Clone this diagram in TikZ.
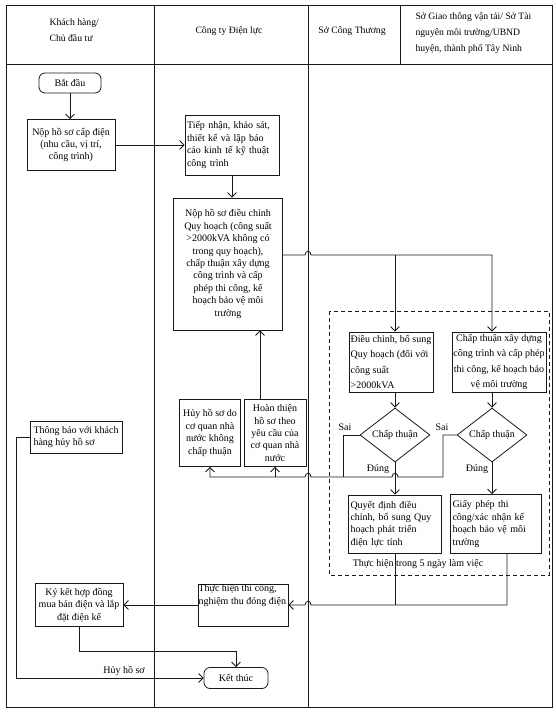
\documentclass[tikz,border=0pt]{standalone}
\usepackage{fontspec}
\setmainfont{Liberation Serif}
\usetikzlibrary{arrows.meta,shapes.geometric,calc}
\begin{document}
\begin{tikzpicture}[x=1pt,y=-1pt,
  every node/.style={font=\fontsize{10}{12.4}\selectfont, text=black},
  ln/.style={draw=black!90, line width=0.8pt},
  arr/.style={ln, -{Straight Barb[length=4.5pt,width=9pt]}},
  box/.style={ln, rectangle, inner sep=1.5pt, align=center},
  lbox/.style={ln, rectangle, inner xsep=2pt, inner ysep=2pt, align=left},
  wide/.style={font=\fontsize{10}{15.5}\selectfont},
  term/.style={ln, rounded corners=6pt, align=center, inner sep=2pt},
  dia/.style={ln, diamond, aspect=1.3, inner sep=0pt},
  lbl/.style={inner sep=1pt},
  hdr/.style={font=\fontsize{9.7}{16}\selectfont}
]
\useasboundingbox (0,0) rectangle (556,712);
% table grid
\draw[ln] (6,5) rectangle (552,707);
\draw[ln] (6,64) -- (552,64);
\draw[ln] (154,5) -- (154,707);
\draw[ln] (308,5) -- (308,707);
\draw[ln] (400,5) -- (400,64);
% header
\node[hdr, align=left, anchor=west] (h1) at (46,30) {Khách hàng/\\Chủ đầu tư};
\node[hdr] (h2) at (229,31) {Công ty Điện lực};
\node[hdr] (h3) at (352,31) {Sở Công Thương};
\node[hdr, align=left, anchor=west] (h4) at (412,33) {Sở Giao thông vận tải/ Sở Tài\\nguyên môi trường/UBND\\huyện, thành phố Tây Ninh};
% dashed group
\draw[ln, dash pattern=on 4pt off 3pt] (329,311) rectangle (549,575);
% nodes
\node[term, minimum width=62pt, minimum height=20pt] (start) at (70,83) {Bắt đầu};
\node[box, minimum width=88pt, minimum height=51pt] (n1) at (71,145) {Nộp hồ sơ cấp điện\\(nhu cầu, vị trí,\\công trình)};
\node[lbox, text width=90pt, minimum height=60pt] (n2) at (232,145) {Tiếp nhận, khảo sát,\\thiết kế và lập báo\\cáo kinh tế kỹ thuật\\công trình};
\node[box, minimum width=109pt, minimum height=132pt] (n3) at (228,264) {Nộp hồ sơ điều chỉnh\\Quy hoạch (công suất\\>2000kVA không có\\trong quy hoạch),\\chấp thuận xây dựng\\công trình và cấp\\phép thi công, kế\\hoạch bảo vệ môi\\trường};
\node[lbox, wide, inner xsep=1pt, minimum width=84pt, minimum height=60pt] (n4) at (391,362) {Điều chỉnh, bổ sung\\Quy hoạch (đối với\\công suất\\>2000kVA};
\node[box, wide, minimum width=92pt, minimum height=60pt] (n5) at (499,362) {Chấp thuận xây dựng\\công trình và cấp phép\\thi công, kế hoạch bảo\\vệ môi trường};
\node[dia, minimum width=70pt, minimum height=54pt] (d1) at (395,435) {Chấp thuận};
\node[dia, minimum width=70pt, minimum height=54pt] (d2) at (492,435) {Chấp thuận};
\node[lbox, text width=89pt, minimum height=58pt] (n6) at (395,524) {Quyết định điều\\chỉnh, bổ sung Quy\\hoạch phát triển\\điện lực tỉnh};
\node[lbox, text width=87pt, minimum height=59pt] (n7) at (496,524) {Giấy phép thi\\công/xác nhận kế\\hoạch bảo vệ môi\\trường};
\node[box, minimum width=61pt, minimum height=67pt] (n8) at (210,433) {Hủy hồ sơ do\\cơ quan nhà\\nước không\\chấp thuận};
\node[box, minimum width=62pt, minimum height=67pt] (n9) at (275,433) {Hoàn thiện\\hồ sơ theo\\yêu cầu của\\cơ quan nhà\\nước};
\node[lbox, minimum width=92pt, minimum height=32pt] (n12) at (76,437) {Thông báo với khách\\hàng hủy hồ sơ};
\node[ln, rectangle, inner xsep=0.5pt, inner ysep=1pt] (n10) at (243,605) {\parbox[c][40pt][t]{89pt}{\raggedright\mbox{Thực hiện thi công,}\\\mbox{nghiệm thu đóng điện}}};
\node[box, minimum width=88pt, minimum height=43pt] (n11) at (79,605) {Ký kết hợp đồng\\mua bán điện và lắp\\đặt điện kế};
\node[term, minimum width=64pt, minimum height=21pt] (endn) at (236,678) {Kết thúc};
% labels
\node[lbl] (s1) at (345,427) {Sai};
\node[lbl] (s2) at (442,427) {Sai};
\node[lbl] (t1) at (378,469) {Đúng};
\node[lbl] (t2) at (477,469) {Đúng};
\node[lbl] (huy) at (124,671) {Hủy hồ sơ};
\node[lbl] (th5) at (418,564) {Thực hiện trong 5 ngày làm việc};
% helper coordinates
\coordinate (b1) at ([yshift=9pt]n3.east);
\coordinate (y477) at (0,477);
\coordinate (y651) at (0,651);
% connectors
\draw[arr] (start.south) -- (start.south |- n1.north);
\draw[arr] (n1.east) -- (n2.west);
\draw[arr] (n2.south) -- (n2.south |- n3.north);
\draw[arr] (b1) -- (305,255) .. controls (305,250) and (311,250) .. (311,255) -| (d2 |- n5.north);
\draw[arr] (d1 |- b1) -- (d1 |- n4.north);
\draw[arr] (d1 |- n4.south) -- (d1.north);
\draw[arr] (d2 |- n5.south) -- (d2.north);
\draw[arr] (d1.south) -- (d1 |- n6.north);
\draw[arr] (d2.south) -- (d2 |- n7.north);
\draw[ln] (d1.west) -| (343,477);
\draw[ln] (d2.west) -| (443,477) -- (398,477) .. controls (398,472) and (392,472) .. (392,477) -- (343,477);
\draw[arr] (343,477) -- (311,477) .. controls (311,472) and (305,472) .. (305,477) -| (n8.south);
\draw[arr] (n9.south |- y477) -- (n9.south);
\draw[arr] ([xshift=-15pt]n9.north) -- ([xshift=-15pt]n9.north |- n3.south);
\draw[ln] (n6.south) -- (n6.south |- n10.east);
\draw[arr] ([xshift=11pt]n7.south) |- (311,605) .. controls (311,600) and (305,600) .. (305,605) -- (n10.east);
\draw[arr] (n10.west) -- (n11.east);
\draw[arr] (n11.south) |- (endn.north |- y651) -- (endn.north);
\draw[arr] (n12.west) -- (16,437) |- (endn.west);
\end{tikzpicture}
\end{document}
